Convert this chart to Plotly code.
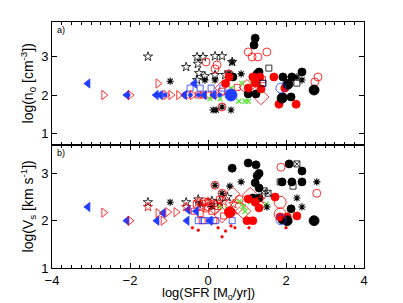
import plotly.graph_objects as go

# ---------------- Panel a: log(n0) vs log(SFR) ----------------
A_BLUE_TRI_X = [-3.08, -2.08, -1.33, -1.22, -0.6, -0.35, -0.1, 0.15]
A_BLUE_TRI_Y = [2.3, 2.0, 2.0, 2.0, 2.0, 2.3, 2.0, 2.0]
A_RED_TRI_X = [-2.67, -2.0, -1.28, -1.08, -0.95, -0.75, -0.4]
A_RED_TRI_Y = [2.0, 2.0, 2.3, 2.0, 2.0, 2.0, 2.0]
A_BLUE_DOT_X = [-2.05, -1.1, -0.45, -0.25, 0.3]
A_BLUE_DOT_Y = [2.0, 2.0, 2.0, 2.0, 2.0]
A_BLUE_SQ_X = [-0.46, -0.2, 0.08, 0.38, 1.4]
A_BLUE_SQ_Y = [2.18, 2.18, 2.18, 2.18, 2.3]
A_RED_SQ_X = [-0.55, -0.25, -0.12, 0.0, 0.15, 0.35, 0.75, 1.4]
A_RED_SQ_Y = [2.0, 2.0, 2.0, 2.0, 2.0, 2.1, 2.2, 2.4]
A_STAR_X = [-1.54, -0.56, -0.28, -0.13, 0.18, 0.36, -0.26, -0.23, -0.08, 0.18, 0.44, 0.62, -0.28]
A_STAR_Y = [3.0, 2.73, 2.99, 2.99, 3.01, 3.01, 2.81, 2.57, 2.49, 2.52, 2.52, 2.86, 2.39]
A_AST_X = [-0.97, -0.08, 0.18, 0.54, 0.85, 0.59, 0.13, 0.21, 2.28, 2.41, 0.62, 1.9, 0.36]
A_AST_Y = [2.36, 2.39, 2.39, 2.57, 2.55, 1.61, 1.61, 1.61, 2.47, 2.39, 2.86, 1.95, 1.69]
A_RED_OC_X = [1.03, 1.13, 1.28, 1.51, -0.05, 0.23, 0.18, 2.74, 2.82, 0.36, 0.54, 2.1]
A_RED_OC_Y = [3.12, 2.99, 2.99, 3.12, 2.86, 2.78, 2.68, 2.34, 2.47, 1.69, 2.55, 2.4]
A_BLK_FC_X = [1.21, 1.18, 1.31, 1.26, 0.64, 1.92, 2.15, 2.41, 1.03, 1.23, 1.92, 2.13]
A_BLK_FC_Y = [3.48, 3.30, 2.60, 2.55, 2.47, 2.47, 2.47, 2.60, 2.03, 2.03, 1.95, 1.95]
A_RED_FC_X = [0.54, 1.15, 1.33, 1.69, 1.03, 1.21, 1.36, 1.97, 1.82, 2.26, 0.45]
A_RED_FC_Y = [2.47, 2.47, 2.47, 2.47, 2.18, 2.31, 2.16, 2.18, 1.76, 1.76, 2.3]
A_DIAM_X = [0.38, 1.36, 1.0]
A_DIAM_Y = [2.18, 1.95, 2.2]
A_BIG_BLUE_X = [0.59]
A_BIG_BLUE_Y = [2.0]
A_GREEN_X_X = [0.05, 0.31, 0.79, 0.95, 1.03, 0.87, 1.13, 0.6]
A_GREEN_X_Y = [1.9, 1.9, 1.84, 1.84, 1.84, 2.31, 2.34, 2.18]
A_BLK_SQ_X = [1.56, 1.41, 2.28]
A_BLK_SQ_Y = [2.7, 2.31, 2.31]
A_CDOT_X = [2.72, 2.05, 1.9]
A_CDOT_Y = [2.13, 2.28, 1.92]
A_BLUE_OC_X = [1.87]
A_BLUE_OC_Y = [2.18]

# ---------------- Panel b: log(Vs) vs log(SFR) ----------------
B_BLUE_TRI_X = [-3.08, -2.08, -1.31, -1.15, -0.54, -0.51, -0.3, 0.05, 1.15]
B_BLUE_TRI_Y = [2.29, 2.0, 2.0, 2.16, 2.0, 2.23, 2.2, 2.0, 2.43]
B_RED_TRI_X = [-2.67, -2.0, -1.28, -1.03, -0.82, -1.15]
B_RED_TRI_Y = [2.17, 2.0, 2.16, 2.18, 2.18, 2.0]
B_STAR_X = [-1.54, -0.56, -0.25, 0.1, 0.3, 0.5]
B_STAR_Y = [2.39, 2.39, 2.45, 2.42, 2.4, 2.5]
B_RED_STAR_X = [-1.54, -0.56, -0.25, -0.15, 0.0, 0.2, 0.4, 0.65, 1.35]
B_RED_STAR_Y = [2.29, 2.29, 2.4, 2.3, 2.4, 2.35, 2.4, 2.35, 2.45]
B_AST_X = [-0.97, 0.56, 0.85, 2.79, 2.28, 2.41, 0.18, 0.36, 1.51, -0.2, 0.1]
B_AST_Y = [2.39, 2.73, 2.82, 2.82, 2.48, 2.29, 2.75, 2.58, 2.29, 2.35, 2.3]
B_RED_OC_X = [2.79, 1.87, 0.18, 0.36, -0.1, 0.0, 0.8]
B_RED_OC_Y = [2.58, 3.13, 2.75, 2.58, 2.4, 2.3, 2.45]
B_BIG_RED_OC_X = [1.85, 1.85]
B_BIG_RED_OC_Y = [2.39, 2.14]
B_BLK_FC_X = [1.03, 1.23, 0.62, 1.31, 1.26, 1.21, 1.31, 2.08, 2.41, 1.9, 2.15, 2.41, 1.15, 1.31, 2.13, 2.0, 1.9]
B_BLK_FC_Y = [3.22, 3.18, 3.11, 3.0, 2.95, 2.8, 2.69, 3.2, 3.05, 2.82, 2.82, 2.82, 2.48, 2.48, 2.25, 2.02, 2.02]
B_RED_FC_X = [1.03, 1.21, 1.31, 1.15, 1.72, 1.85, 2.03, 2.28, 1.0]
B_RED_FC_Y = [2.46, 2.39, 2.27, 2.0, 2.5, 2.08, 2.08, 2.1, 2.0]
B_BIG_RED_X = [0.56]
B_BIG_RED_Y = [2.18]
B_RED_DOT_X = [0.26, 0.36, 0.59, 0.69, 1.05, 2.0, -0.4, -0.25, 0.45]
B_RED_DOT_Y = [1.85, 1.66, 1.89, 1.85, 1.85, 1.85, 1.85, 1.8, 1.78]
B_BLUE_SQ_X = [0.62, 1.03, -0.25, -0.1, 0.05, 0.2]
B_BLUE_SQ_Y = [2.0, 2.0, 2.0, 2.0, 2.0, 2.0]
B_RED_SQ_X = [-0.35, -0.2, -0.05, 0.1, 0.25, 0.4, -0.3, 0.0, 0.3, -0.15, 0.15]
B_RED_SQ_Y = [2.2, 2.15, 2.25, 2.2, 2.3, 2.1, 2.35, 2.4, 2.45, 2.0, 2.0]
B_CDOT_X = [2.72, 2.03]
B_CDOT_Y = [2.0, 2.0]
B_BLUE_OC_X = [1.87]
B_BLUE_OC_Y = [2.02]
B_DIAM_X = [0.62, 0.36, 0.18, 1.08, 0.75, 0.9]
B_DIAM_Y = [2.56, 2.12, 2.29, 2.54, 2.3, 2.2]
B_GREEN_X_X = [0.3, 0.8, 0.9, 1.5, 0.5, 1.1, 0.95]
B_GREEN_X_Y = [2.3, 2.4, 2.3, 2.35, 2.25, 2.4, 2.2]
B_SQX_X = [2.28, 1.44, 1.54]
B_SQX_Y = [3.2, 2.63, 2.58]
B_BLK_SQ_X = [2.18, 1.85]
B_BLK_SQ_Y = [2.73, 2.82]

X_TICKS = [-4, -2, 0, 2, 4]
YA_TICKS = [1, 2, 3]
YB_TICKS = [1, 2, 3]

RED = "#ff0000"
BLUE = "#1f3cff"
GREEN = "#55e833"
BLACK = "#000000"

fig = go.Figure()


def add(x, y, symbol, color, size, panel, lw=0.8):
    xa, ya = ("x2", "y2") if panel == "a" else ("x", "y")
    fig.add_trace(go.Scatter(
        x=x, y=y, mode="markers", xaxis=xa, yaxis=ya, showlegend=False,
        marker=dict(symbol=symbol, size=size,
                    color=color,
                    line=dict(color=color, width=lw)),
        hoverinfo="skip"))


for p, d in (("a", dict(
        bt=(A_BLUE_TRI_X, A_BLUE_TRI_Y), rt=(A_RED_TRI_X, A_RED_TRI_Y),
        bsq=(A_BLUE_SQ_X, A_BLUE_SQ_Y), rsq=(A_RED_SQ_X, A_RED_SQ_Y),
        st=(A_STAR_X, A_STAR_Y), ast=(A_AST_X, A_AST_Y),
        roc=(A_RED_OC_X, A_RED_OC_Y), kfc=(A_BLK_FC_X, A_BLK_FC_Y),
        rfc=(A_RED_FC_X, A_RED_FC_Y), dia=(A_DIAM_X, A_DIAM_Y),
        gx=(A_GREEN_X_X, A_GREEN_X_Y), ksq=(A_BLK_SQ_X, A_BLK_SQ_Y),
        cd=(A_CDOT_X, A_CDOT_Y), boc=(A_BLUE_OC_X, A_BLUE_OC_Y))),
        ("b", dict(
        bt=(B_BLUE_TRI_X, B_BLUE_TRI_Y), rt=(B_RED_TRI_X, B_RED_TRI_Y),
        bsq=(B_BLUE_SQ_X, B_BLUE_SQ_Y), rsq=(B_RED_SQ_X, B_RED_SQ_Y),
        st=(B_STAR_X, B_STAR_Y), ast=(B_AST_X, B_AST_Y),
        roc=(B_RED_OC_X, B_RED_OC_Y), kfc=(B_BLK_FC_X, B_BLK_FC_Y),
        rfc=(B_RED_FC_X, B_RED_FC_Y), dia=(B_DIAM_X, B_DIAM_Y),
        gx=(B_GREEN_X_X, B_GREEN_X_Y), ksq=(B_BLK_SQ_X, B_BLK_SQ_Y),
        cd=(B_CDOT_X, B_CDOT_Y), boc=(B_BLUE_OC_X, B_BLUE_OC_Y)))):
    add(*d["rsq"], "square-open", RED, 6, p)
    add(*d["bsq"], "square-open", BLUE, 6, p)
    add(*d["dia"], "diamond-open", RED, 12, p)
    add(*d["gx"], "x-thin-open", GREEN, 5, p, lw=1.3)
    add(*d["st"], "star-open", BLACK, 7, p)
    add(*d["ast"], "asterisk-open", BLACK, 6, p, lw=1.1)
    add(*d["roc"], "circle-open", RED, 8, p)
    add(*d["bt"], "triangle-left", BLUE, 8, p)
    add(*d["rt"], "triangle-right-open", RED, 8, p)
    add(*d["kfc"], "circle", BLACK, 8, p)
    add(*d["rfc"], "circle", RED, 8, p)
    add(*d["ksq"], "square-open", BLACK, 6, p)
    add(*d["cd"], "circle-dot", BLACK, 10, p)
    add(*d["boc"], "circle-open", BLUE, 10, p)

add(A_BLUE_DOT_X, A_BLUE_DOT_Y, "circle", BLUE, 4, "a")
add(A_BIG_BLUE_X, A_BIG_BLUE_Y, "circle", BLUE, 12, "a")
add(B_RED_STAR_X, B_RED_STAR_Y, "star-open", RED, 7, "b")
add(B_BIG_RED_OC_X, B_BIG_RED_OC_Y, "circle-open", RED, 12, "b")
add(B_BIG_RED_X, B_BIG_RED_Y, "circle", RED, 11, "b")
add(B_RED_DOT_X, B_RED_DOT_Y, "circle", RED, 2.5, "b")
add(B_SQX_X, B_SQX_Y, "square-x-open", BLACK, 6, "b")

FONT = "Liberation Sans, Arial, Helvetica, sans-serif"
axis_common = dict(showline=True, linecolor="black", linewidth=1, mirror="allticks",
                   ticks="inside", ticklen=5, tickcolor="black", showgrid=False,
                   zeroline=False, tickfont=dict(family=FONT, size=13, color="black"))

fig.update_layout(
    width=403, height=303,
    margin=dict(l=52, r=39, t=22, b=35),
    paper_bgcolor="white", plot_bgcolor="white",
    font=dict(family=FONT, color="black"),
    xaxis=dict(**axis_common, range=[-4, 4], tickvals=X_TICKS, anchor="y",
               ticklabelstandoff=0,
               minor=dict(dtick=0.25, ticks="inside", ticklen=3, tickcolor="black")),
    yaxis=dict(**axis_common, range=[1, 3.6], tickvals=YB_TICKS, domain=[0, 0.5], anchor="x"),
    xaxis2=dict(**axis_common, range=[-4, 4], tickvals=X_TICKS, anchor="y2", showticklabels=False,
                minor=dict(dtick=0.25, ticks="inside", ticklen=3, tickcolor="black")),
    yaxis2=dict(**axis_common, range=[0.7, 3.9], tickvals=YA_TICKS, domain=[0.5, 1], anchor="x2"),
    annotations=[
        dict(text="a)", xref="x2 domain", yref="y2 domain", x=0.01, y=0.99,
             xanchor="left", yanchor="top", showarrow=False, font=dict(size=9, family=FONT)),
        dict(text="b)", xref="x domain", yref="y domain", x=0.01, y=0.99,
             xanchor="left", yanchor="top", showarrow=False, font=dict(size=9, family=FONT)),
        dict(text="log(n<sub>0</sub> [cm<sup>-3</sup>])", xref="paper", yref="y2 domain",
             x=-0.077, y=0.5, xanchor="center", yanchor="middle", textangle=-90,
             showarrow=False, font=dict(size=14, family=FONT)),
        dict(text="log(V<sub>s</sub> [km s<sup>-1</sup>])", xref="paper", yref="y domain",
             x=-0.077, y=0.5, xanchor="center", yanchor="middle", textangle=-90,
             showarrow=False, font=dict(size=14, family=FONT)),
        dict(text="log(SFR [M<sub>o</sub>/yr])", xref="paper", yref="paper",
             x=0.5, y=-0.103, xanchor="center", yanchor="middle",
             showarrow=False, font=dict(size=13, family=FONT)),
    ],
)

fig.write_html("out.html", config={"displayModeBar": False},
               post_script="document.body.style.margin='0';document.body.style.padding='0';")
